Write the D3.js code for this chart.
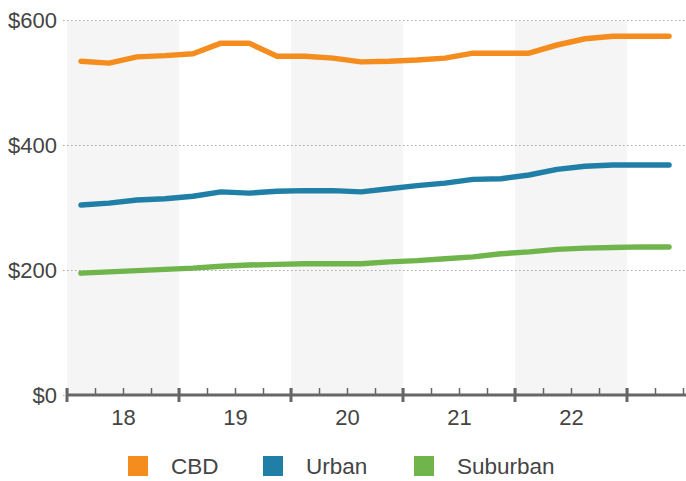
<!DOCTYPE html>
<html>
<head>
<meta charset="utf-8">
<script src="https://cdn.jsdelivr.net/npm/d3@7"></script>
<style>
  body { margin: 0; background: #fff; }
  svg { display: block; font-family: "Liberation Sans", Arial, sans-serif; }
  .tick text { fill: #444; }
</style>
</head>
<body>
<div id="chart"></div>
<script>
  'use strict';

  // quarters 18Q1 .. 23Q2
  var quarters = ['18Q1', '18Q2', '18Q3', '18Q4', '19Q1', '19Q2', '19Q3', '19Q4',
    '20Q1', '20Q2', '20Q3', '20Q4', '21Q1', '21Q2', '21Q3', '21Q4',
    '22Q1', '22Q2', '22Q3', '22Q4', '23Q1', '23Q2'];
  var years = ['18', '19', '20', '21', '22'];
  var yTicks = [0, 200, 400, 600];

  var cbd = [534, 531, 541, 543, 546, 563, 563, 542, 542, 539, 533, 534,
    536, 539, 547, 547, 547, 560, 570, 574, 574, 574];
  var urban = [304, 307, 312, 314, 318, 325, 323, 326, 327, 327, 325, 330,
    335, 339, 345, 346, 352, 361, 366, 368, 368, 368];
  var suburban = [195, 197, 199, 201, 203, 206, 208, 209, 210, 210, 210, 213,
    215, 218, 221, 226, 229, 233, 235, 236, 237, 237];

  var seriesNames = ['CBD', 'Urban', 'Suburban'];
  var colors = ['#f48c1e', '#1f7fa6', '#6fb54b'];

  var W = 686, H = 481,
      x0 = 67, qw = 28, yTop = 20, yBase = 395;

  var svg = d3.select('#chart').append('svg')
    .attr('width', W)
    .attr('height', H);

  var x = d3.scaleLinear().domain([0, 24]).range([x0, x0 + 24 * qw]);
  var y = d3.scaleLinear().domain([0, 600]).range([yBase, yTop]);

  // alternating year bands
  svg.selectAll('rect.band')
    .data(d3.range(0, 24, 8))
    .enter().append('rect')
      .attr('class', 'band')
      .attr('x', function (d) { return x(d); })
      .attr('y', y(600) + 1)
      .attr('width', x(4) - x(0))
      .attr('height', y(0) - y(600) - 1)
      .attr('fill', '#f5f5f5');

  // y axis with dotted gridlines
  var yAxis = svg.append('g')
    .attr('transform', 'translate(' + (x0 - 4) + ',0)')
    .call(d3.axisLeft(y).tickValues(yTicks)
      .tickSize(-(W - x0 + 4))
      .tickPadding(6)
      .tickFormat(function (d) { return '$' + d; }));
  yAxis.select('.domain').remove();
  yAxis.selectAll('.tick line')
    .attr('stroke', '#aaa')
    .attr('stroke-width', 1.2)
    .attr('stroke-dasharray', '1.5,2.5');
  yAxis.selectAll('.tick text')
    .attr('font-size', 22)
    .attr('fill', '#444');

  // lines
  var line = d3.line()
    .x(function (d, i) { return x(i + 0.5); })
    .y(function (d) { return y(d); });

  svg.selectAll('path.series')
    .data([cbd, urban, suburban])
    .enter().append('path')
      .attr('class', 'series')
      .attr('d', line)
      .attr('fill', 'none')
      .attr('stroke', function (d, i) { return colors[i]; })
      .attr('stroke-width', 5.5)
      .attr('stroke-linejoin', 'round')
      .attr('stroke-linecap', 'round');

  // x axis: minor quarter ticks
  var xg = svg.append('g').attr('transform', 'translate(0,' + yBase + ')');
  xg.append('g')
    .call(d3.axisTop(x).tickValues(d3.range(0, 25)).tickSize(7).tickFormat(''))
    .call(function (g) {
      g.select('.domain').remove();
      g.selectAll('line').attr('stroke', '#666').attr('stroke-width', 1.5);
    });
  xg.append('line')
    .attr('x1', x(0)).attr('x2', W)
    .attr('stroke', '#666').attr('stroke-width', 3);
  // major year ticks
  xg.selectAll('line.major')
    .data(d3.range(0, 25, 4))
    .enter().append('line')
      .attr('class', 'major')
      .attr('x1', function (d) { return x(d); })
      .attr('x2', function (d) { return x(d); })
      .attr('y1', -7).attr('y2', 7)
      .attr('stroke', '#666').attr('stroke-width', 3);
  // year labels
  xg.append('g')
    .call(d3.axisBottom(x).tickValues(years.map(function (d, i) { return i * 4 + 2; }))
      .tickSize(0).tickPadding(14)
      .tickFormat(function (d) { return years[(d - 2) / 4]; }))
    .call(function (g) {
      g.select('.domain').remove();
      g.selectAll('text').attr('font-size', 22).attr('fill', '#444');
    });

  // legend
  var legendX = [128, 263, 414];
  var lg = svg.selectAll('g.legend')
    .data(seriesNames)
    .enter().append('g')
      .attr('class', 'legend')
      .attr('transform', function (d, i) { return 'translate(' + legendX[i] + ',456)'; });
  lg.append('rect')
    .attr('width', 20).attr('height', 20)
    .attr('fill', function (d, i) { return colors[i]; });
  lg.append('text')
    .attr('x', 43).attr('y', 18)
    .attr('font-size', 22.5)
    .attr('fill', '#444')
    .text(function (d) { return d; });
</script>
</body>
</html>
